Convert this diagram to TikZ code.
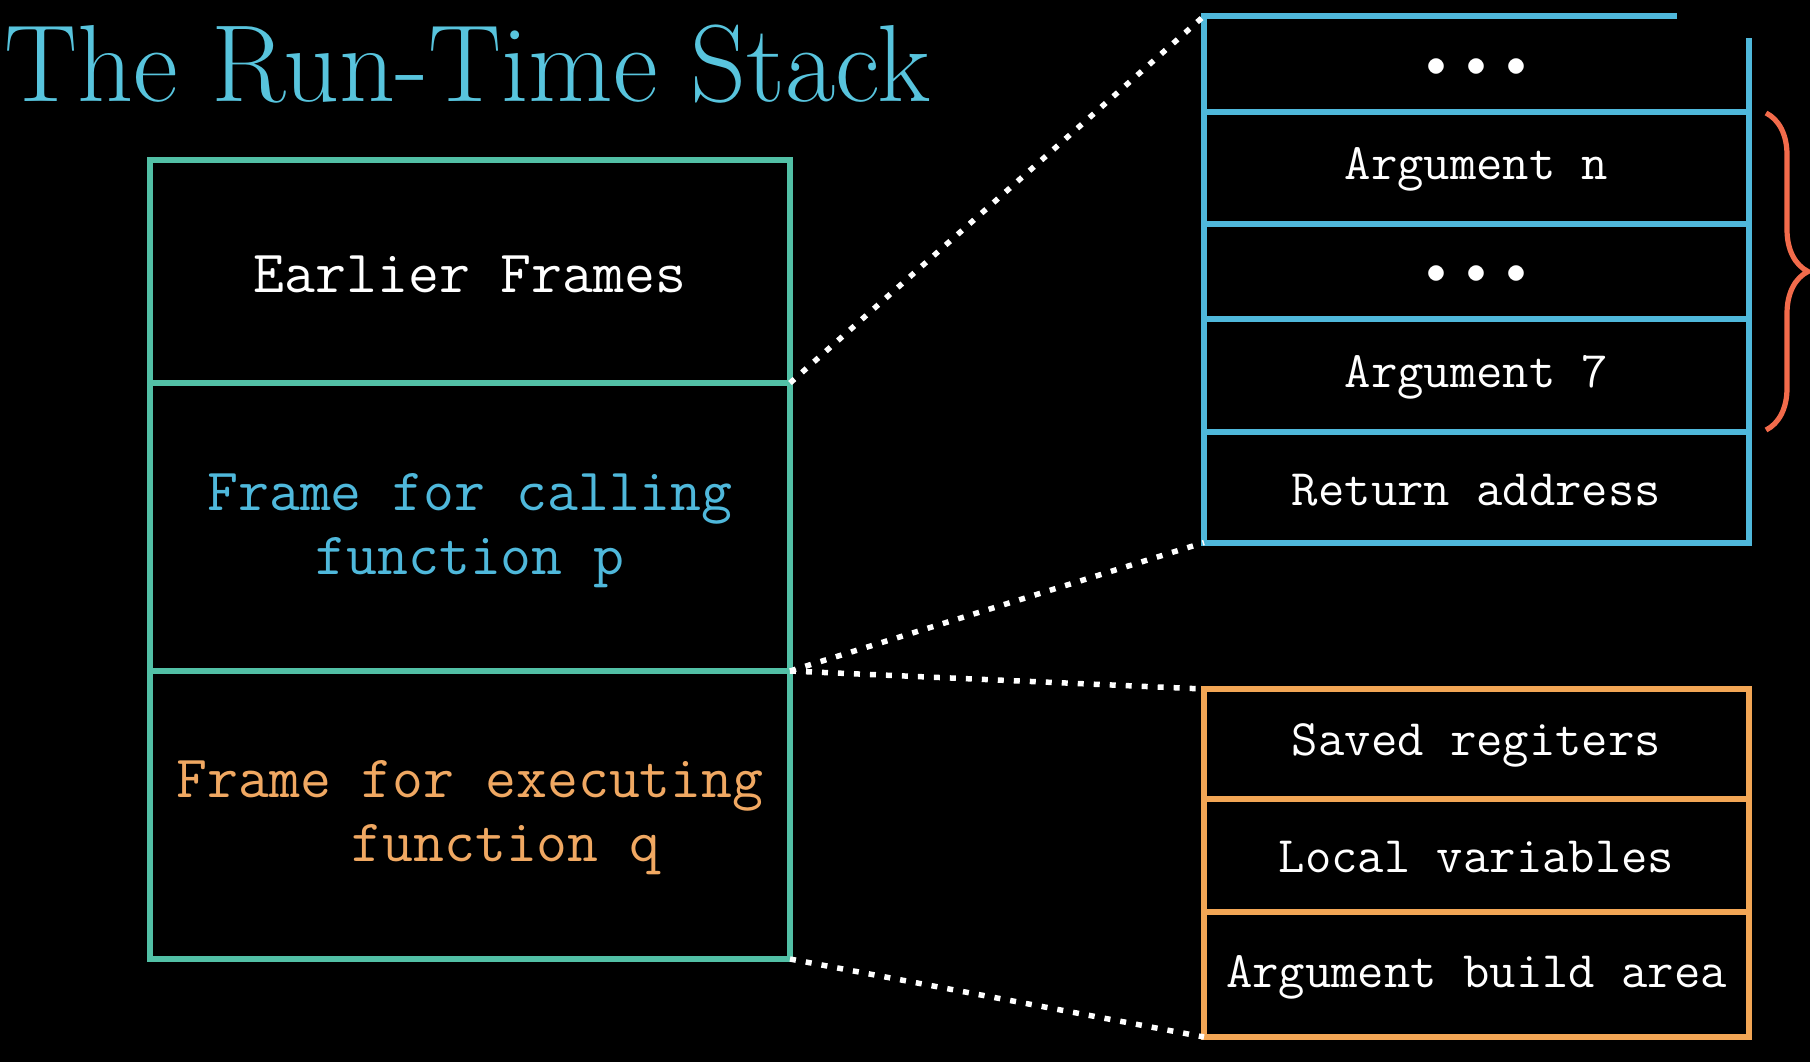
\documentclass[tikz,border=0pt]{standalone}
\usepackage{fontspec}
\usetikzlibrary{decorations.pathreplacing}
\definecolor{titleblue}{HTML}{58C4DD}
\definecolor{boxblue}{HTML}{4FB8DB}
\definecolor{teal}{HTML}{52C0A6}
\definecolor{boxorange}{HTML}{F2A655}
\definecolor{txtorange}{HTML}{F0A862}
\definecolor{bracered}{HTML}{F26B4B}
\newcommand{\bigdot}{\scalebox{2.0}{$\bullet$}}
\tikzset{
  tealline/.style={draw=teal, line width=3pt},
  blueline/.style={draw=boxblue, line width=3pt},
  orangeline/.style={draw=boxorange, line width=3pt},
  zoomline/.style={draw=white, line width=2.75pt, dash pattern=on 3pt off 5pt},
  bigtxt/.style={inner sep=0pt, text=white, font=\ttfamily\fontsize{30}{32.3}\selectfont, align=center},
  smalltxt/.style={inner sep=0pt, text=white, anchor=base, font=\ttfamily\fontsize{25.6}{28}\selectfont},
  dotstxt/.style={inner sep=0pt, text=white, font=\fontsize{10}{12}\selectfont}
}
\begin{document}
\begin{tikzpicture}[x=0.5pt, y=-0.5pt]
\fill[black] (0,0) rectangle (1810,1062);
\useasboundingbox (0,0) rectangle (1810,1062);

% title
\node[anchor=base west, inner sep=0pt, text=titleblue, font=\fontsize{54.8}{64}\selectfont] (title) at (4,101.6) {The Run-Time Stack};

% left stack
\coordinate (L1) at (150,160);
\coordinate (L2) at (790,383);
\coordinate (L3) at (790,671);
\coordinate (L4) at (790,959);
\draw[tealline] (150,160) rectangle (790,959);
\draw[tealline] (150,383) -- (L2);
\draw[tealline] (150,671) -- (L3);
\node[bigtxt, anchor=base] (earlier) at (470,292) {Earlier Frames};
\node[bigtxt, text=boxblue] (calling) at (470,530.6) {Frame for calling\\function p};
\node[bigtxt, text=txtorange] (executing) at (470,817.8) {Frame for executing\\\hspace*{1.2em}function q};

% blue (argument) box
\coordinate (B1) at (1204,16);
\coordinate (B2) at (1204,542.5);
\draw[blueline] (1677,16) -- (B1) -- (B2) -- (1749,542.5) -- (1749,38);
\foreach \yy in {112,223.6,319.4,432} \draw[blueline] (1204,\yy) -- (1749,\yy);
\node[dotstxt] (dots1) at (1476.5,67.5) {\bigdot\hspace{10pt}\bigdot\hspace{10pt}\bigdot};
\node[smalltxt] (argn) at (1476.5,179.6) {Argument n};
\node[dotstxt] (dots2) at (1476.5,274.5) {\bigdot\hspace{10pt}\bigdot\hspace{10pt}\bigdot};
\node[smalltxt] (arg7) at (1476.5,387) {Argument 7};
\node[smalltxt] (ret) at (1476.5,505) {Return address};

% brace
\coordinate (brtop) at (1766,113);
\coordinate (brbot) at (1766,430);
\draw[bracered, line width=2.6pt, decorate, decoration={brace, amplitude=21pt}] (brtop) -- (brbot);

% orange box
\coordinate (O1) at (1204,689);
\coordinate (O2) at (1204,1037);
\draw[orangeline] (O1) rectangle (1749,1037);
\draw[orangeline] (1204,799) -- (1749,799);
\draw[orangeline] (1204,911.5) -- (1749,911.5);
\node[smalltxt] (saved) at (1476.5,755.6) {Saved regiters};
\node[smalltxt] (local) at (1476.5,872) {Local variables};
\node[smalltxt] (build) at (1476.5,987.5) {Argument build area};

% zoom connectors
\draw[zoomline] (L2) -- (B1);
\draw[zoomline] (L3) -- (B2);
\draw[zoomline] (L3) -- (O1);
\draw[zoomline] (L4) -- (O2);
\end{tikzpicture}
\end{document}
